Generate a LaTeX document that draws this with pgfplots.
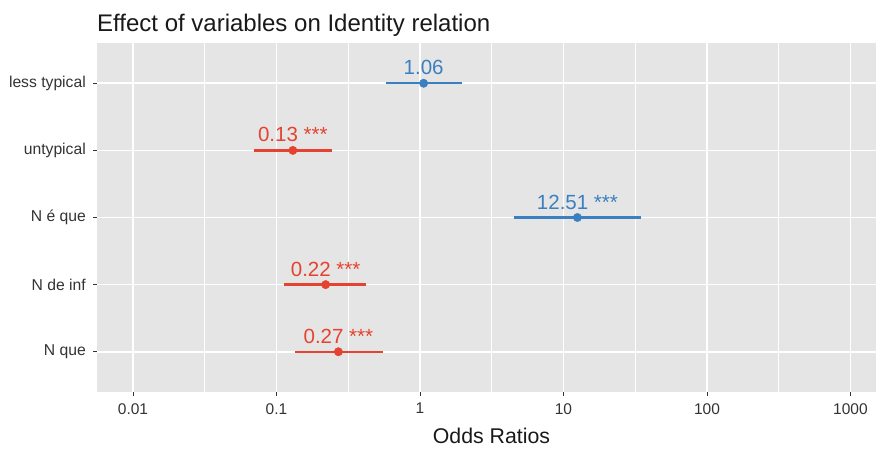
\documentclass[border=0pt]{standalone}
\usepackage{fontspec}
\setmainfont{Liberation Sans}
\usepackage{pgfplots}
\usepackage{pgfplotstable}
\pgfplotsset{compat=1.18}

\definecolor{panelbg}{HTML}{E5E5E5}
\definecolor{oddsblue}{HTML}{3A80C0}
\definecolor{oddsred}{HTML}{E5432F}
\definecolor{txt}{HTML}{333333}

% odds ratios, one table per colour
\pgfplotstableread{
y  or     lab
5  1.06   {1.06}
3  12.51  {12.51 ***}
}\posdata
\pgfplotstableread{
y  or     lab
4  0.13   {0.13 ***}
2  0.22   {0.22 ***}
1  0.27   {0.27 ***}
}\negdata

\begin{document}
\begin{tikzpicture}
\useasboundingbox (-97pt,-56pt) rectangle (779pt,392pt);
\begin{axis}[
    scale only axis,
    width=779pt, height=349pt,
    xmode=log,
    xmin=0.00561, xmax=1507,
    ymin=0.4, ymax=5.6,
    axis background/.style={fill=panelbg},
    axis line style={draw=none},
    xtick={0.01,0.1,1,10,100,1000},
    xticklabels={0.01,0.1,1,10,100,1000},
    minor tick length=0pt,
    minor x tick style={draw=none},
    xtick pos=bottom, ytick pos=left,
    extra x ticks={0.0316,0.3162,3.162,31.62,316.2},
    extra x tick labels={},
    extra x tick style={grid=major, major tick length=0pt,
        major grid style={white, line width=0.8pt}},
    ytick={1,2,3,4,5},
    yticklabels={N que, N de inf, N é que, untypical, less typical},
    grid=major,
    major grid style={white, line width=1.6pt},
    tick align=outside,
    major tick length=4pt,
    tick style={txt, line width=0.8pt},
    xticklabel style={font=\fontsize{15.5}{18}\selectfont, text=txt, inner sep=0pt, anchor=north, yshift=-7pt},
    yticklabel style={font=\fontsize{15.7}{18}\selectfont, text=txt, inner sep=0pt, anchor=east, xshift=-7pt},
    clip=false,
]
% confidence intervals
\addplot[oddsblue, line width=2.3pt] coordinates {(0.58,5) (1.95,5)};
\addplot[oddsred, line width=2.3pt] coordinates {(0.0697,4) (0.243,4)};
\addplot[oddsblue, line width=2.3pt] coordinates {(4.52,3) (34.7,3)};
\addplot[oddsred, line width=2.3pt] coordinates {(0.112,2) (0.42,2)};
\addplot[oddsred, line width=2.3pt] coordinates {(0.135,1) (0.552,1)};
% estimates with labels
\addplot[only marks, mark=*, mark size=4.2pt, color=oddsblue,
    nodes near coords, point meta=explicit symbolic,
    nodes near coords style={anchor=base, yshift=8.5pt, inner sep=0pt,
        font=\fontsize{20.5}{24}\selectfont, text=oddsblue}]
    table[x=or, y=y, meta=lab] {\posdata};
\addplot[only marks, mark=*, mark size=4.2pt, color=oddsred,
    nodes near coords, point meta=explicit symbolic,
    nodes near coords style={anchor=base, yshift=8.5pt, inner sep=0pt,
        font=\fontsize{20.5}{24}\selectfont, text=oddsred}]
    table[x=or, y=y, meta=lab] {\negdata};
\node[anchor=base west, inner sep=0pt, text=black!90, font=\fontsize{24}{28}\selectfont]
    at (rel axis cs:0,1) [yshift=12pt] {Effect of variables on Identity relation};
\node[anchor=base, inner sep=0pt, text=black!90, font=\fontsize{21.3}{25}\selectfont]
    at (rel axis cs:0.5064,0) [yshift=-51pt] {Odds Ratios};
\end{axis}
\end{tikzpicture}
\end{document}
